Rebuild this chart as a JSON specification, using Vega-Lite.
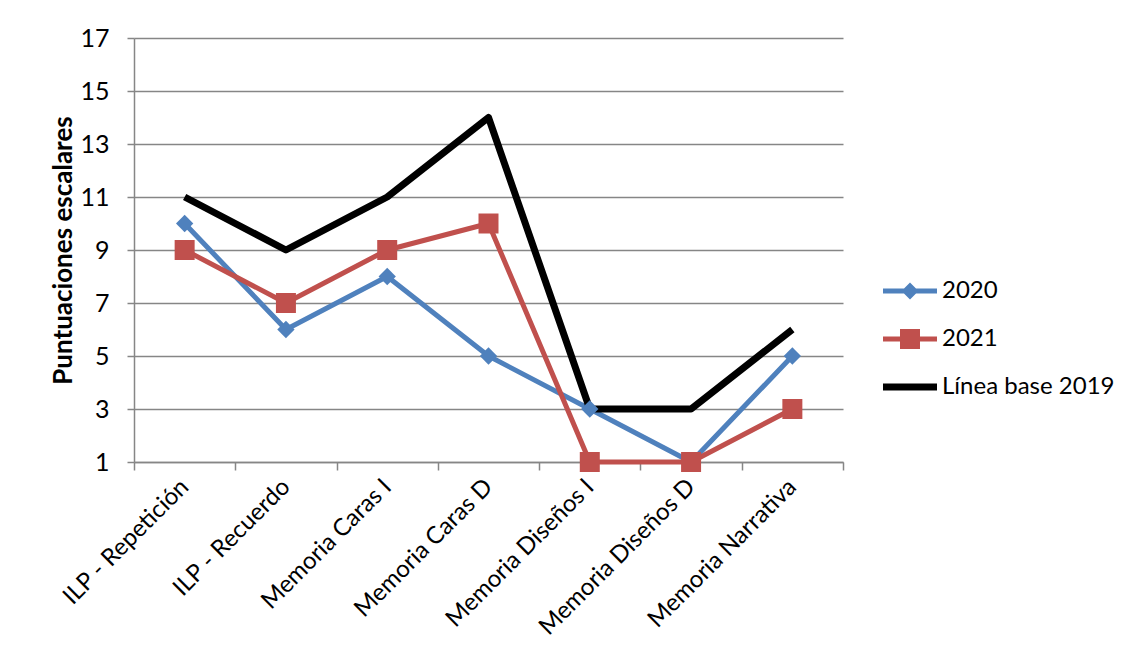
{
  "$schema": "https://vega.github.io/schema/vega-lite/v6.json",
  "autosize": "none",
  "width": 709,
  "height": 424,
  "padding": {"left": 134, "top": 38, "right": 296, "bottom": 202},
  "background": "white",
  "config": {
    "font": "Lato",
    "view": {"stroke": null},
    "axis": {"labelFont": "Lato", "titleFont": "Lato", "labelColor": "#000000", "titleColor": "#000000"}
  },
  "data": {
    "values": [
      {"prueba": "ILP - Repetición", "serie": "2020", "valor": 10},
      {"prueba": "ILP - Recuerdo", "serie": "2020", "valor": 6},
      {"prueba": "Memoria Caras I", "serie": "2020", "valor": 8},
      {"prueba": "Memoria Caras D", "serie": "2020", "valor": 5},
      {"prueba": "Memoria Diseños I", "serie": "2020", "valor": 3},
      {"prueba": "Memoria Diseños D", "serie": "2020", "valor": 1},
      {"prueba": "Memoria Narrativa", "serie": "2020", "valor": 5},
      {"prueba": "ILP - Repetición", "serie": "2021", "valor": 9},
      {"prueba": "ILP - Recuerdo", "serie": "2021", "valor": 7},
      {"prueba": "Memoria Caras I", "serie": "2021", "valor": 9},
      {"prueba": "Memoria Caras D", "serie": "2021", "valor": 10},
      {"prueba": "Memoria Diseños I", "serie": "2021", "valor": 1},
      {"prueba": "Memoria Diseños D", "serie": "2021", "valor": 1},
      {"prueba": "Memoria Narrativa", "serie": "2021", "valor": 3},
      {"prueba": "ILP - Repetición", "serie": "Línea base 2019", "valor": 11},
      {"prueba": "ILP - Recuerdo", "serie": "Línea base 2019", "valor": 9},
      {"prueba": "Memoria Caras I", "serie": "Línea base 2019", "valor": 11},
      {"prueba": "Memoria Caras D", "serie": "Línea base 2019", "valor": 14},
      {"prueba": "Memoria Diseños I", "serie": "Línea base 2019", "valor": 3},
      {"prueba": "Memoria Diseños D", "serie": "Línea base 2019", "valor": 3},
      {"prueba": "Memoria Narrativa", "serie": "Línea base 2019", "valor": 6}
    ]
  },
  "encoding": {
    "x": {
      "field": "prueba",
      "type": "nominal",
      "sort": null,
      "scale": {"type": "band", "paddingInner": 0, "paddingOuter": 0},
      "axis": {
        "title": null,
        "labelAngle": -45,
        "labelAlign": "right",
        "labelBaseline": "middle",
        "labelFontSize": 24,
        "labelPadding": 13,
        "labelLimit": 0,
        "tickBand": "extent",
        "tickSize": 8,
        "tickColor": "#868686",
        "tickWidth": 1.5,
        "domainColor": "#868686",
        "domainWidth": 1.5,
        "grid": false
      }
    },
    "y": {
      "field": "valor",
      "type": "quantitative",
      "scale": {"domain": [1, 17], "nice": false, "zero": false},
      "axis": {
        "title": "Puntuaciones escalares",
        "titleFontSize": 26,
        "titleFontWeight": "bold",
        "titlePadding": 3,
        "values": [1, 3, 5, 7, 9, 11, 13, 15, 17],
        "labelFontSize": 25,
        "labelPadding": 18,
        "tickSize": 7,
        "tickColor": "#868686",
        "tickWidth": 1.5,
        "domainColor": "#868686",
        "domainWidth": 1.5,
        "grid": true,
        "gridColor": "#868686",
        "gridWidth": 1.5
      }
    },
    "color": {
      "field": "serie",
      "type": "nominal",
      "scale": {
        "domain": ["2020", "2021", "Línea base 2019"],
        "range": ["#4F81BD", "#C0504D", "#000000"]
      },
      "legend": {
        "title": null,
        "orient": "none",
        "legendX": 749,
        "legendY": 233,
        "labelFontSize": 24,
        "labelColor": "#000000",
        "labelLimit": 0,
        "labelOffset": 19,
        "rowPadding": 16,
        "symbolSize": 1600,
        "symbolStrokeWidth": 0,
        "encode": {
          "symbols": {
            "update": {
              "shape": {
                "signal": "datum.value == '2020' ? 'M-1,-0.125L1.7,-0.125L1.7,0.125L-1,0.125Z M0.35,-0.425L0.775,0L0.35,0.425L-0.075,0Z' : datum.value == '2021' ? 'M-1,-0.125L1.7,-0.125L1.7,0.125L-1,0.125Z M-0.15,-0.5L0.85,-0.5L0.85,0.5L-0.15,0.5Z' : 'M-1,-0.175L1.7,-0.175L1.7,0.175L-1,0.175Z'"
              },
              "fill": {"signal": "scale('color', datum.value)"},
              "fillOpacity": {"value": 1},
              "strokeWidth": {"value": 0}
            }
          }
        }
      }
    }
  },
  "layer": [
    {
      "transform": [{"filter": "datum.serie != 'Línea base 2019'"}],
      "mark": {"type": "line", "strokeWidth": 5, "strokeJoin": "round"}
    },
    {
      "transform": [{"filter": "datum.serie == 'Línea base 2019'"}],
      "mark": {"type": "line", "strokeWidth": 7, "strokeJoin": "round"}
    },
    {
      "transform": [{"filter": "datum.serie != 'Línea base 2019'"}],
      "mark": {"type": "point", "filled": true, "opacity": 1},
      "encoding": {
        "shape": {
          "field": "serie",
          "type": "nominal",
          "scale": {"domain": ["2020", "2021"], "range": ["diamond", "square"]},
          "legend": null
        },
        "size": {
          "field": "serie",
          "type": "nominal",
          "scale": {"domain": ["2020", "2021"], "range": [300, 400]},
          "legend": null
        }
      }
    }
  ]
}
